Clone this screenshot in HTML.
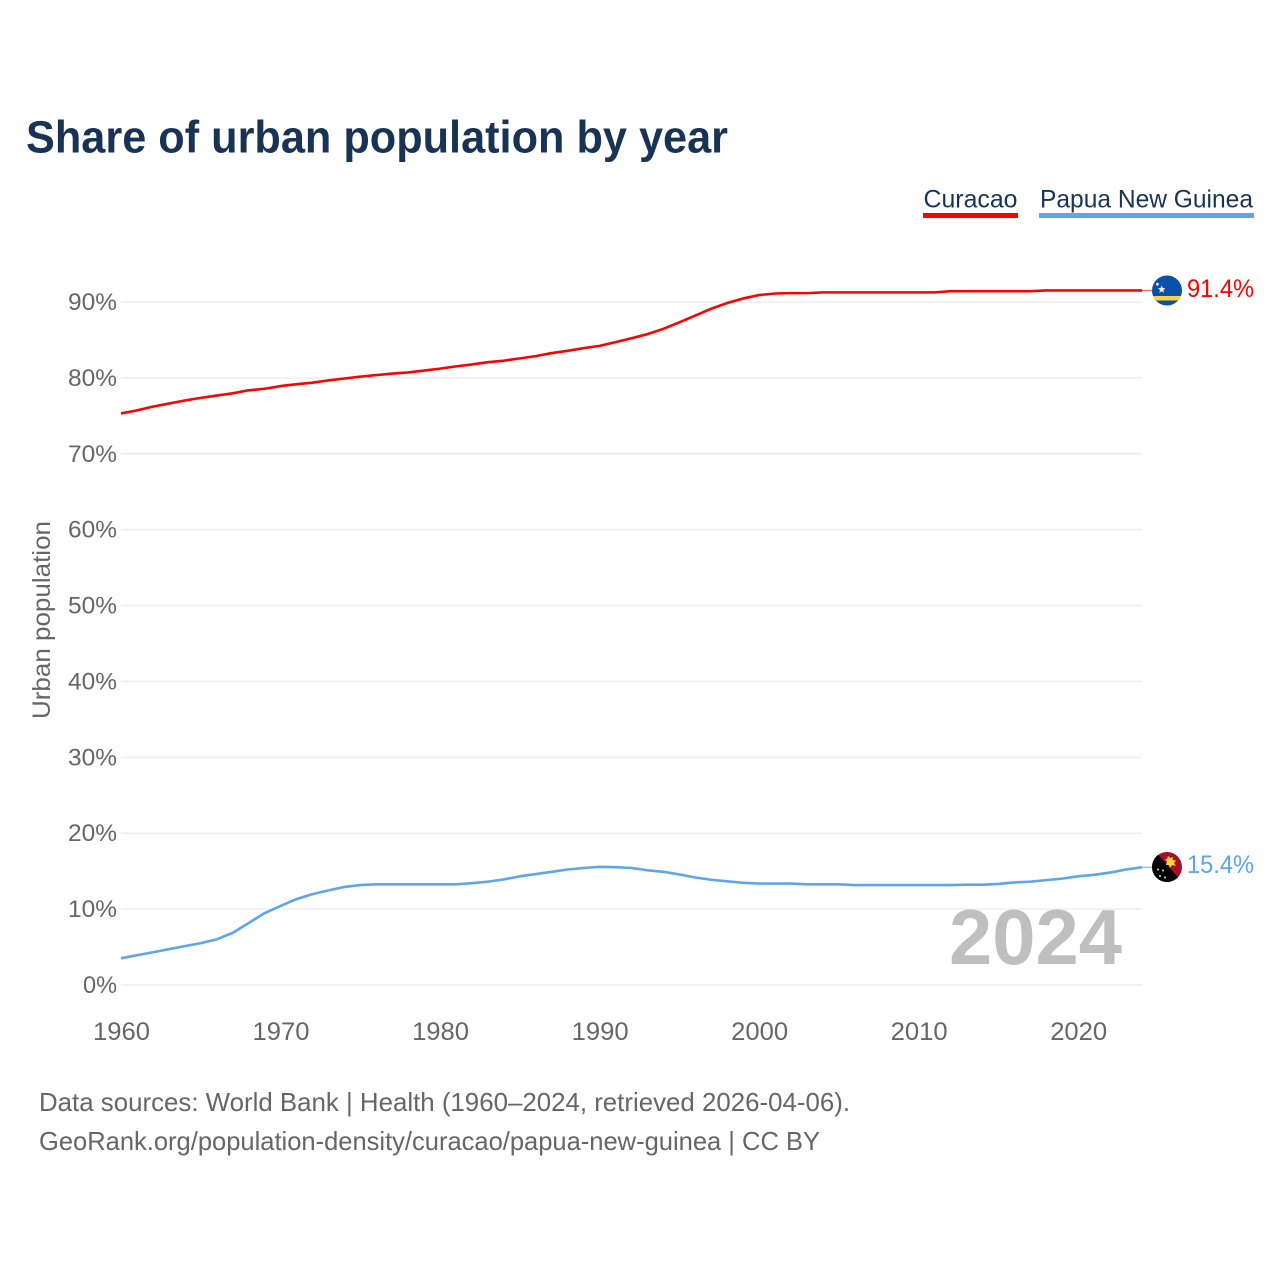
<!DOCTYPE html>
<html lang="en">
<head>
<meta charset="utf-8">
<title>Share of urban population by year</title>
<style>
html,body{margin:0;padding:0;background:#fff;width:1280px;height:1280px;overflow:hidden}
svg{display:block}
text{font-family:"Liberation Sans",sans-serif}
</style>
</head>
<body>
<svg id="chart" xmlns="http://www.w3.org/2000/svg" width="1280" height="1280" viewBox="0 0 1280 1280">
  <text x="26" y="152.5" font-size="45" font-weight="700" fill="#183354" textLength="702" lengthAdjust="spacingAndGlyphs">Share of urban population by year</text>

  <g>
    <text x="923.5" y="207.5" font-size="25" fill="#183354" textLength="94" lengthAdjust="spacingAndGlyphs">Curacao</text>
    <rect x="923" y="213" width="95" height="5" fill="#ff0000"/>
  </g>
  <g>
    <text x="1040" y="207.5" font-size="25" fill="#183354" textLength="213" lengthAdjust="spacingAndGlyphs">Papua New Guinea</text>
    <rect x="1039" y="213" width="215" height="5" fill="#5fa5ee"/>
  </g>

  <g id="grid"></g>
  <g id="yticks"></g>
  <g id="xticks"></g>
  <text transform="translate(50,719) rotate(-90)" x="0" y="0" font-size="25" fill="#666666" textLength="198" lengthAdjust="spacingAndGlyphs">Urban population</text>

  <text x="949" y="964" font-size="78" font-weight="700" fill="#000000" fill-opacity="0.25" textLength="173" lengthAdjust="spacingAndGlyphs">2024</text>

  <g id="series"></g>

  <defs>
    <clipPath id="flag-clip-cw"><circle cx="1167" cy="290.5" r="15"/></clipPath>
    <clipPath id="flag-clip-pg"><circle cx="1167" cy="867" r="15"/></clipPath>
  </defs>

  <g clip-path="url(#flag-clip-cw)">
    <rect x="1152" y="275" width="30" height="31" fill="#0b50a8"/>
    <rect x="1152" y="296" width="30" height="4.5" fill="#f7d046"/>
    <circle cx="1157.4" cy="284.2" r="1.4" fill="#e8eef8"/>
    <polygon points="1161.7,285.4 1162.8,288 1165.5,288.2 1163.4,290 1164.1,292.7 1161.7,291.2 1159.3,292.7 1160,290 1157.9,288.2 1160.6,288" fill="#e8eef8"/>
  </g>
  <g clip-path="url(#flag-clip-pg)">
    <rect x="1152" y="852" width="30" height="30" fill="#a80f26"/>
    <polygon points="1156,852 1182,882 1152,882 1152,852" fill="#000"/>
    <polygon points="1168,856 1170.5,858 1173,857 1172.5,860 1176,860.5 1174,863 1176,866 1172,865 1170,868 1169,865 1166,865 1167,861.5 1165,859 1167,859" fill="#f9d23c"/>
    <circle cx="1158" cy="869.5" r="1" fill="#cfe3f5"/>
    <circle cx="1163" cy="870.5" r="1" fill="#cfe3f5"/>
    <circle cx="1160" cy="876" r="1" fill="#cfe3f5"/>
    <circle cx="1165" cy="877.5" r="1" fill="#cfe3f5"/>
  </g>

  <text id="value-curacao" x="1187" y="297" font-size="25" fill="#ff0000" textLength="67" lengthAdjust="spacingAndGlyphs"></text>
  <text id="value-png" x="1187" y="873" font-size="25" fill="#5fa5ee" textLength="67" lengthAdjust="spacingAndGlyphs"></text>

  <text x="39" y="1111" font-size="26" fill="#666666" textLength="811" lengthAdjust="spacingAndGlyphs">Data sources: World Bank | Health (1960–2024, retrieved 2026-04-06).</text>
  <text x="39" y="1150" font-size="26" fill="#666666" textLength="781" lengthAdjust="spacingAndGlyphs">GeoRank.org/population-density/curacao/papua-new-guinea | CC BY</text>
</svg>
<script>
const years = [1960,1961,1962,1963,1964,1965,1966,1967,1968,1969,1970,1971,1972,1973,1974,1975,1976,1977,1978,1979,1980,1981,1982,1983,1984,1985,1986,1987,1988,1989,1990,1991,1992,1993,1994,1995,1996,1997,1998,1999,2000,2001,2002,2003,2004,2005,2006,2007,2008,2009,2010,2011,2012,2013,2014,2015,2016,2017,2018,2019,2020,2021,2022,2023,2024];
const curacaoValues = [75.2,75.6,76.1,76.5,76.9,77.25,77.55,77.85,78.25,78.45,78.8,79.05,79.25,79.55,79.8,80.05,80.25,80.45,80.6,80.85,81.1,81.4,81.65,81.95,82.15,82.45,82.75,83.15,83.45,83.8,84.1,84.6,85.1,85.65,86.35,87.2,88.1,89.0,89.75,90.35,90.8,91.0,91.05,91.05,91.15,91.15,91.15,91.15,91.15,91.15,91.15,91.15,91.3,91.3,91.3,91.3,91.3,91.3,91.4,91.4,91.4,91.4,91.4,91.4,91.4];
const pngValues = [3.4,3.8,4.2,4.6,5.0,5.4,5.9,6.75,8.05,9.35,10.3,11.2,11.85,12.35,12.8,13.05,13.15,13.15,13.15,13.15,13.15,13.15,13.3,13.5,13.8,14.2,14.5,14.8,15.1,15.3,15.45,15.4,15.3,15.0,14.8,14.45,14.05,13.75,13.55,13.35,13.25,13.25,13.25,13.15,13.15,13.15,13.05,13.05,13.05,13.05,13.05,13.05,13.05,13.1,13.1,13.2,13.4,13.5,13.7,13.9,14.2,14.4,14.7,15.1,15.4];
const yTickValues = [0,10,20,30,40,50,60,70,80,90];
const xTickValues = [1960,1970,1980,1990,2000,2010,2020];

const SVGNS = 'http://www.w3.org/2000/svg';
const plotLeft = 121, plotRight = 1142, plotBottom = 985, plotTop = 302;
const lineOffset = -0.9;
const xScale = year => plotLeft + (year - years[0]) / (years[years.length - 1] - years[0]) * (plotRight - plotLeft);
const yScale = value => plotBottom - value / 90 * (plotBottom - plotTop);

const gridGroup = document.getElementById('grid');
const yTickGroup = document.getElementById('yticks');
const xTickGroup = document.getElementById('xticks');
const seriesGroup = document.getElementById('series');

yTickValues.forEach(v => {
  const line = document.createElementNS(SVGNS, 'line');
  
  
  line.setAttribute('x1', plotLeft);
  line.setAttribute('x2', plotRight);
  line.setAttribute('y1', yScale(v));
  line.setAttribute('y2', yScale(v));
  line.setAttribute('stroke', '#eeeeee');
  line.setAttribute('stroke-width', '1.5');
  gridGroup.appendChild(line);

  const label = document.createElementNS(SVGNS, 'text');
  
  
  label.setAttribute('x', '117');
  label.setAttribute('y', yScale(v) + 8);
  label.setAttribute('text-anchor', 'end');
  label.setAttribute('font-size', '24.5');
  label.setAttribute('fill', '#666666');
  label.setAttribute('textLength', v === 0 ? '34' : '49');
  label.setAttribute('lengthAdjust', 'spacingAndGlyphs');
  label.textContent = v + '%';
  yTickGroup.appendChild(label);
});

xTickValues.forEach(y => {
  const label = document.createElementNS(SVGNS, 'text');
  
  
  label.setAttribute('x', xScale(y) + 0.5);
  label.setAttribute('y', '1040');
  label.setAttribute('text-anchor', 'middle');
  label.setAttribute('font-size', '25');
  label.setAttribute('fill', '#666666');
  label.setAttribute('textLength', '57');
  label.setAttribute('lengthAdjust', 'spacingAndGlyphs');
  label.textContent = y;
  xTickGroup.appendChild(label);
});

function linePath(values) {
  return values.map((v, i) => (i ? 'L' : 'M') + xScale(years[i]).toFixed(2) + ' ' + (yScale(v) + lineOffset).toFixed(2)).join(' ');
}

const curacaoLine = document.createElementNS(SVGNS, 'path');


curacaoLine.setAttribute('d', linePath(curacaoValues));
curacaoLine.setAttribute('fill', 'none');
curacaoLine.setAttribute('stroke', '#ff0000');
curacaoLine.setAttribute('stroke-width', '2.6');
curacaoLine.setAttribute('stroke-linejoin', 'round');
seriesGroup.appendChild(curacaoLine);

const pngLine = document.createElementNS(SVGNS, 'path');


pngLine.setAttribute('d', linePath(pngValues));
pngLine.setAttribute('fill', 'none');
pngLine.setAttribute('stroke', '#5fa5ee');
pngLine.setAttribute('stroke-width', '2.6');
pngLine.setAttribute('stroke-linejoin', 'round');
seriesGroup.appendChild(pngLine);

const curacaoTail = document.createElementNS(SVGNS, 'line');


curacaoTail.setAttribute('x1', plotRight);
curacaoTail.setAttribute('x2', plotRight + 10);
curacaoTail.setAttribute('y1', yScale(curacaoValues[curacaoValues.length - 1]) + lineOffset);
curacaoTail.setAttribute('y2', yScale(curacaoValues[curacaoValues.length - 1]) + lineOffset);
curacaoTail.setAttribute('stroke', '#ff0000');
curacaoTail.setAttribute('stroke-opacity', '0.6');
curacaoTail.setAttribute('stroke-width', '1.2');
seriesGroup.appendChild(curacaoTail);

const pngTail = document.createElementNS(SVGNS, 'line');


pngTail.setAttribute('x1', plotRight);
pngTail.setAttribute('x2', plotRight + 10);
pngTail.setAttribute('y1', yScale(pngValues[pngValues.length - 1]) + lineOffset);
pngTail.setAttribute('y2', yScale(pngValues[pngValues.length - 1]) + lineOffset);
pngTail.setAttribute('stroke', '#5fa5ee');
pngTail.setAttribute('stroke-opacity', '0.8');
pngTail.setAttribute('stroke-width', '1.2');
seriesGroup.appendChild(pngTail);

document.getElementById('value-curacao').textContent = curacaoValues[curacaoValues.length - 1].toFixed(1) + '%';
document.getElementById('value-png').textContent = pngValues[pngValues.length - 1].toFixed(1) + '%';
</script>
</body>
</html>
